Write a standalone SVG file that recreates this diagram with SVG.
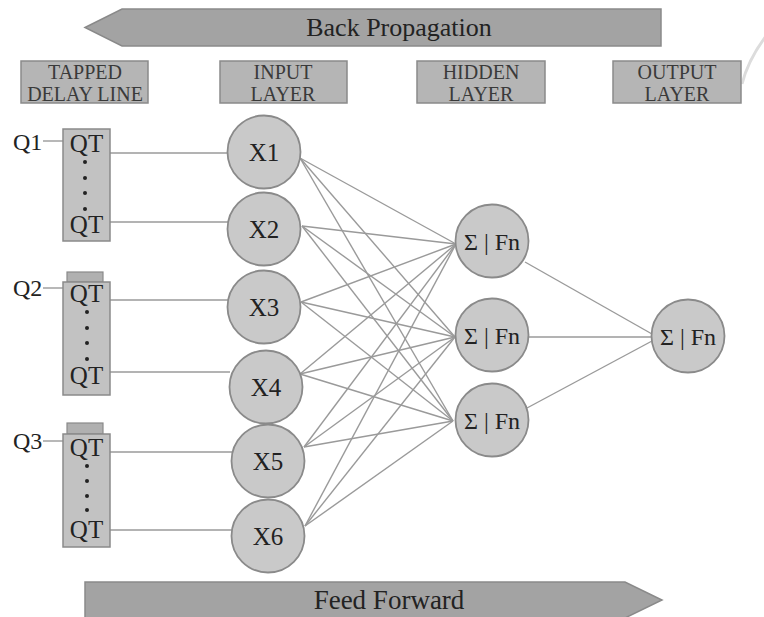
<svg xmlns="http://www.w3.org/2000/svg" width="764" height="617" viewBox="0 0 764 617">
<style>
.f{font-family:'Liberation Serif',serif}
.arrow{fill:#a3a3a3;stroke:#8a8a8a;stroke-width:1.5}
.lbl{fill:#b5b5b5;stroke:#8a8a8a;stroke-width:1.5}
.lbltxt{font-size:20px;fill:#3a3a3a;text-anchor:middle}
.big{font-size:26px;fill:#222;text-anchor:middle}
.node{fill:#c9c9c9;stroke:#8a8a8a;stroke-width:1.8}
.ntxt{font-size:25px;fill:#222;text-anchor:middle}
.htxt{font-size:24px;fill:#222;text-anchor:middle}
.qtxt{font-size:25px;fill:#222}
.box{fill:#c2c2c2;stroke:#8a8a8a;stroke-width:1.5}
.tab{fill:#b0b0b0;stroke:#8a8a8a;stroke-width:1.2}
.conn line{stroke:#9a9a9a;stroke-width:1.4}
.dot{fill:#222}
</style>

<path d="M742,84 Q748,60 766,36" fill="none" stroke="#dcdcdc" stroke-width="3"/>

<g id="back-propagation">
<polygon class="arrow" points="85,27.5 122,9 661,9 661,46 122,46"/>
<text class="f big" x="399" y="36">Back Propagation</text>
</g>

<g id="feed-forward">
<polygon class="arrow" points="85,582 625,582 662,600 625,618 85,618"/>
<text class="f big" x="389" y="609" style="font-size:27px">Feed Forward</text>
</g>

<g id="label-tdl">
<rect class="lbl" x="21" y="61" width="127" height="42"/>
<text class="f lbltxt" x="85" y="79">TAPPED</text>
<text class="f lbltxt" x="85" y="101">DELAY LINE</text>
</g>
<g id="label-input">
<rect class="lbl" x="220" y="61" width="127" height="42"/>
<text class="f lbltxt" x="283" y="79">INPUT</text>
<text class="f lbltxt" x="283" y="101">LAYER</text>
</g>
<g id="label-hidden">
<rect class="lbl" x="417" y="61" width="128" height="42"/>
<text class="f lbltxt" x="481" y="79">HIDDEN</text>
<text class="f lbltxt" x="481" y="101">LAYER</text>
</g>
<g id="label-output">
<rect class="lbl" x="613" y="61" width="128" height="42"/>
<text class="f lbltxt" x="677" y="79">OUTPUT</text>
<text class="f lbltxt" x="677" y="101">LAYER</text>
</g>

<g id="connectors" class="conn">
<line x1="43" y1="141" x2="63" y2="141"/>
<line x1="43" y1="288" x2="63" y2="288"/>
<line x1="43" y1="441" x2="63" y2="441"/>
<line x1="110" y1="153" x2="228" y2="153"/>
<line x1="110" y1="222" x2="228" y2="222"/>
<line x1="110" y1="300" x2="228" y2="300"/>
<line x1="110" y1="372" x2="230" y2="372"/>
<line x1="110" y1="452" x2="232" y2="452"/>
<line x1="110" y1="530" x2="232" y2="530"/>

<line x1="300" y1="158" x2="456" y2="244"/>
<line x1="300" y1="158" x2="455" y2="337"/>
<line x1="300" y1="158" x2="453" y2="421"/>
<line x1="302" y1="226" x2="456" y2="244"/>
<line x1="302" y1="226" x2="455" y2="337"/>
<line x1="302" y1="226" x2="453" y2="421"/>
<line x1="301" y1="302" x2="456" y2="244"/>
<line x1="301" y1="302" x2="455" y2="337"/>
<line x1="301" y1="302" x2="453" y2="421"/>
<line x1="300" y1="374" x2="456" y2="244"/>
<line x1="300" y1="374" x2="455" y2="337"/>
<line x1="300" y1="374" x2="453" y2="421"/>
<line x1="304" y1="447" x2="456" y2="244"/>
<line x1="304" y1="447" x2="455" y2="337"/>
<line x1="304" y1="447" x2="453" y2="421"/>
<line x1="305" y1="526" x2="456" y2="244"/>
<line x1="305" y1="526" x2="455" y2="337"/>
<line x1="305" y1="526" x2="453" y2="421"/>

<line x1="525" y1="262" x2="652" y2="334"/>
<line x1="528" y1="337" x2="652" y2="337"/>
<line x1="527" y1="408" x2="652" y2="341"/>
</g>

<g id="q1">
<text class="f qtxt" x="13" y="150" style="font-size:24px">Q1</text>
</g>
<g id="q2">
<text class="f qtxt" x="13" y="296" style="font-size:24px">Q2</text>
</g>
<g id="q3">
<text class="f qtxt" x="13" y="449" style="font-size:24px">Q3</text>
</g>

<g id="tdl1">
<rect class="box" x="63" y="129" width="47" height="112"/>
<text class="f qtxt" x="86.5" y="152" text-anchor="middle">QT</text>
<text class="f qtxt" x="86.5" y="233" text-anchor="middle">QT</text>
<circle class="dot" cx="85" cy="162" r="2"/>
<circle class="dot" cx="85" cy="178" r="2"/>
<circle class="dot" cx="85" cy="193" r="2"/>
<circle class="dot" cx="85" cy="209" r="2"/>
</g>
<g id="tdl2">
<rect class="tab" x="67" y="272" width="36" height="10"/>
<rect class="box" x="63" y="282" width="47" height="113"/>
<text class="f qtxt" x="86.5" y="302" text-anchor="middle">QT</text>
<text class="f qtxt" x="86.5" y="384" text-anchor="middle">QT</text>
<circle class="dot" cx="87" cy="312" r="2"/>
<circle class="dot" cx="87" cy="328" r="2"/>
<circle class="dot" cx="87" cy="343" r="2"/>
<circle class="dot" cx="87" cy="359" r="2"/>
</g>
<g id="tdl3">
<rect class="tab" x="67" y="423" width="36" height="11"/>
<rect class="box" x="63" y="434" width="47" height="113"/>
<text class="f qtxt" x="86.5" y="456" text-anchor="middle">QT</text>
<text class="f qtxt" x="86.5" y="538" text-anchor="middle">QT</text>
<circle class="dot" cx="87" cy="466" r="2"/>
<circle class="dot" cx="87" cy="481" r="2"/>
<circle class="dot" cx="87" cy="496" r="2"/>
<circle class="dot" cx="87" cy="510" r="2"/>
</g>

<g id="x1"><circle class="node" cx="264" cy="152" r="36.5"/><text class="f ntxt" x="264" y="161">X1</text></g>
<g id="x2"><circle class="node" cx="264" cy="229" r="36.5"/><text class="f ntxt" x="264" y="238">X2</text></g>
<g id="x3"><circle class="node" cx="264" cy="307" r="36.5"/><text class="f ntxt" x="264" y="316">X3</text></g>
<g id="x4"><circle class="node" cx="266" cy="387" r="36.5"/><text class="f ntxt" x="266" y="396">X4</text></g>
<g id="x5"><circle class="node" cx="268" cy="461" r="36.5"/><text class="f ntxt" x="268" y="470">X5</text></g>
<g id="x6"><circle class="node" cx="268" cy="536" r="36.5"/><text class="f ntxt" x="268" y="545">X6</text></g>

<g id="h1"><circle class="node" cx="492" cy="241" r="36.5"/><text class="f htxt" x="492" y="250">Σ | Fn</text></g>
<g id="h2"><circle class="node" cx="492" cy="335" r="36.5"/><text class="f htxt" x="492" y="344">Σ | Fn</text></g>
<g id="h3"><circle class="node" cx="492" cy="420" r="36.5"/><text class="f htxt" x="492" y="429">Σ | Fn</text></g>
<g id="out"><circle class="node" cx="688" cy="336" r="36.5"/><text class="f htxt" x="688" y="345">Σ | Fn</text></g>
</svg>
